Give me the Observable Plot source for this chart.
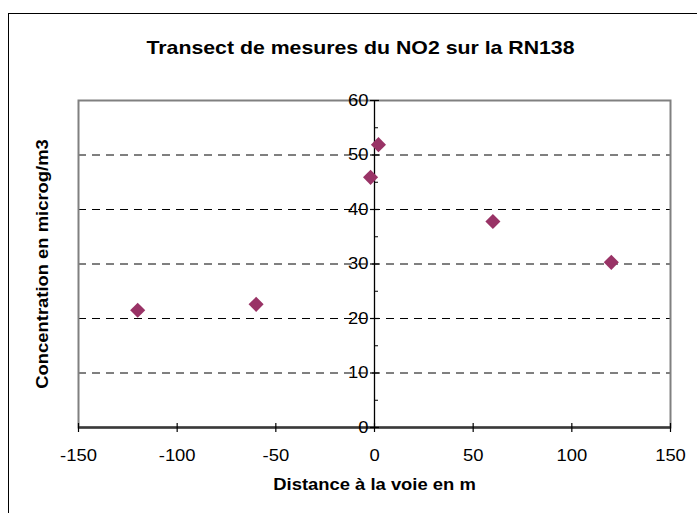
<!DOCTYPE html>
<html>
<head>
<meta charset="utf-8">
<script src="https://cdn.jsdelivr.net/npm/d3@7"></script>
<script src="https://cdn.jsdelivr.net/npm/@observablehq/plot@0.6"></script>
<style>
  html, body { margin: 0; padding: 0; background: #fff; overflow: hidden; }
  #wrap { position: relative; width: 697px; height: 513px; }
  #border { position: absolute; left: 8px; top: 13px; width: 720px; height: 540px; border: 1px solid #000; box-sizing: border-box; pointer-events: none; }
  #chart { position: absolute; left: 0; top: 0; }
</style>
</head>
<body>
<div id="wrap"><div id="chart"></div><div id="border"></div></div>
<script>
const title = "Transect de mesures du NO2 sur la RN138";
const xTitle = "Distance à la voie en m";
const yTitle = "Concentration en microg/m3";
const distances = [-120, -60, -2, 2, 60, 120];
const concentrations = [21.5, 22.6, 45.9, 51.9, 37.8, 30.3];
const xTicks = [-150, -100, -50, 0, 50, 100, 150];
const yTicks = [0, 10, 20, 30, 40, 50, 60];
const yMinorTicks = [5, 15, 25, 35, 45, 55];
const yGrid = [10, 20, 30, 40, 50];

const data = distances.map((d, i) => ({x: d, y: concentrations[i]}));
const font = "'Liberation Sans', Arial, sans-serif";

const plot = Plot.plot({
  width: 697,
  height: 513,
  marginLeft: 78,
  marginRight: 27,
  marginTop: 100,
  marginBottom: 86,
  style: {fontFamily: font, background: "transparent"},
  x: {domain: [-150, 150], axis: null},
  y: {domain: [0, 60], axis: null},
  marks: [
    Plot.ruleY(yGrid, {y: d => d, stroke: "#000", strokeWidth: 1, strokeDasharray: "8,6"}),
    Plot.frame({stroke: "#808080", strokeWidth: 2}),
    Plot.ruleY([0], {y: d => d, stroke: "#3a3a3a", strokeWidth: 2.5}),
    Plot.ruleX([0], {x: d => d, stroke: "#000", strokeWidth: 1.3}),
    Plot.ruleY(yTicks, {y: d => d, x1: 0, x2: 0, insetLeft: -4, insetRight: -5, stroke: "#000", strokeWidth: 1.2}),
    Plot.ruleY(yMinorTicks, {y: d => d, x1: 0, x2: 0, insetLeft: 0, insetRight: -4, stroke: "#000", strokeWidth: 1}),
    Plot.ruleX(xTicks, {x: d => d, y1: 0, y2: 0, insetTop: -4, insetBottom: -5, stroke: "#000", strokeWidth: 1.2}),
    Plot.text(yTicks, {x: 0, y: d => d, text: d => String(d), textAnchor: "end", dx: -6, fontSize: 16, fill: "#000", className: "stretch"}),
    Plot.text(xTicks, {x: d => d, y: 0, text: d => String(d), dy: 28, fontSize: 16, fill: "#000", className: "stretch"}),
    Plot.dot(data, {x: "x", y: "y", symbol: "diamond2", r: 6.8, fill: "#993366", stroke: "none"}),
    Plot.text([title], {frameAnchor: "top", text: d => d, textAnchor: "middle", dx: -14, dy: -60, fontSize: 18.5, fontWeight: "bold", fill: "#000", className: "stretch"}),
    Plot.text([xTitle], {frameAnchor: "bottom", text: d => d, textAnchor: "middle", dy: 62, fontSize: 16, fontWeight: "bold", fill: "#000", className: "stretch"}),
    Plot.text([yTitle], {frameAnchor: "left", text: d => d, textAnchor: "middle", dx: -36, rotate: -90, fontSize: 16, fontWeight: "bold", fill: "#000", className: "stretch"})
  ]
});
document.getElementById("chart").appendChild(plot);
const k = 1.15;
d3.select(plot).selectAll("g[aria-label='text'] text, .stretch text").each(function() {
  const w = this.getComputedTextLength();
  if (w > 0) {
    this.setAttribute("textLength", w * k);
    this.setAttribute("lengthAdjust", "spacingAndGlyphs");
  }
});
</script>
</body>
</html>
